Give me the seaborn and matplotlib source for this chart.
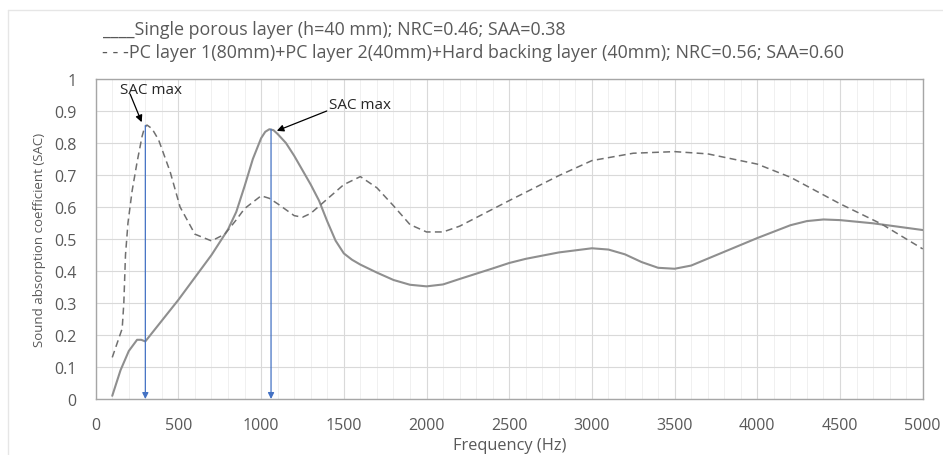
import matplotlib
matplotlib.use("Agg")
import matplotlib.pyplot as plt
import seaborn as sns
from matplotlib.ticker import MultipleLocator

sns.set_style("white")
plt.rcParams['font.family'] = ['Open Sans', 'DejaVu Sans']

# single porous layer (solid)
freq_single = [100, 150, 200, 250, 275, 300, 400, 500, 600, 700, 800, 850, 900,
               950, 1000, 1025, 1050, 1075, 1100, 1150, 1200, 1300, 1350, 1400,
               1450, 1500, 1550, 1600, 1700, 1800, 1900, 2000, 2100, 2200, 2400,
               2500, 2600, 2800, 3000, 3100, 3200, 3300, 3400, 3500, 3600, 3800,
               4000, 4200, 4300, 4400, 4500, 4700, 5000]
sac_single = [0.01, 0.09, 0.15, 0.185, 0.185, 0.18, 0.245, 0.31, 0.38, 0.45, 0.53,
              0.585, 0.665, 0.75, 0.815, 0.835, 0.843, 0.84, 0.828, 0.8, 0.76,
              0.67, 0.62, 0.555, 0.495, 0.455, 0.435, 0.42, 0.395, 0.372, 0.357,
              0.352, 0.358, 0.375, 0.408, 0.425, 0.438, 0.458, 0.471, 0.467, 0.452,
              0.428, 0.41, 0.407, 0.417, 0.46, 0.503, 0.543, 0.556, 0.561, 0.559,
              0.549, 0.528]

# PC layer 1 + PC layer 2 + hard backing (dashed)
freq_pc = [100, 160, 170, 180, 195, 220, 250, 280, 295, 310, 340, 380, 450, 510,
           600, 700, 780, 850, 900, 1000, 1050, 1100, 1200, 1250, 1300, 1400, 1500,
           1600, 1700, 1800, 1900, 2000, 2100, 2200, 2500, 2800, 3000, 3250, 3500,
           3700, 4000, 4200, 4500, 4750, 5000]
sac_pc = [0.13, 0.22, 0.30, 0.45, 0.55, 0.65, 0.74, 0.82, 0.848, 0.856, 0.845, 0.81,
          0.71, 0.6, 0.515, 0.494, 0.515, 0.56, 0.595, 0.635, 0.627, 0.61, 0.573,
          0.568, 0.58, 0.625, 0.67, 0.695, 0.66, 0.604, 0.545, 0.522, 0.522, 0.54,
          0.62, 0.698, 0.745, 0.768, 0.773, 0.766, 0.734, 0.693, 0.61, 0.547, 0.469]

# SAC max markers
max_freq = [300, 1060]
max_sac = [0.855, 0.843]

legend_single = "____Single porous layer (h=40 mm); NRC=0.46; SAA=0.38"
legend_pc = "- - -PC layer 1(80mm)+PC layer 2(40mm)+Hard backing layer (40mm); NRC=0.56; SAA=0.60"

fig = plt.figure(figsize=(9.43, 4.56), dpi=100)
ax = fig.add_axes([0.1015, 0.1228, 0.877, 0.7018])

ax.xaxis.set_minor_locator(MultipleLocator(100))
ax.grid(which='minor', axis='x', color='#f0f0f0', lw=0.7, zorder=0)
ax.grid(which='major', color='#d9d9d9', lw=0.8, zorder=0)

sns.lineplot(x=freq_single, y=sac_single, ax=ax, color='#8f8f8f', lw=1.5,
             estimator=None, zorder=3)
sns.lineplot(x=freq_pc, y=sac_pc, ax=ax, color='#707070', lw=1.1,
             estimator=None, zorder=3)
ax.lines[-1].set_dashes([4.5, 2.8])

for f, v in zip(max_freq, max_sac):
    ax.annotate('', xy=(f, 0.0), xytext=(f, v),
                arrowprops=dict(arrowstyle='-|>', color='#4472c4', lw=0.9,
                                mutation_scale=9, shrinkA=0, shrinkB=0),
                zorder=4)

# SAC max labels with black arrows
ax.text(147, 0.966, "SAC max", fontsize=11, ha='left', va='center')
ax.annotate('', xy=(278, 0.865), xytext=(208, 0.953),
            arrowprops=dict(arrowstyle='-|>', color='black', lw=0.9,
                            mutation_scale=10, shrinkA=0, shrinkB=0))
ax.text(1410, 0.92, "SAC max", fontsize=11, ha='left', va='center')
ax.annotate('', xy=(1095, 0.838), xytext=(1397, 0.90),
            arrowprops=dict(arrowstyle='-|>', color='black', lw=0.9,
                            mutation_scale=10, shrinkA=0, shrinkB=0))

ax.set_xlim(0, 5000)
ax.set_ylim(0, 1)
ax.xaxis.set_major_locator(MultipleLocator(500))
ax.set_yticks([i / 10 for i in range(11)])
ax.set_yticklabels(['0'] + [f'{i / 10:.1f}' for i in range(1, 10)] + ['1'])
ax.tick_params(axis='both', length=0, labelsize=11.5, colors='#595959')
ax.tick_params(axis='x', pad=13)
ax.tick_params(axis='y', pad=14)

for s in ax.spines.values():
    s.set_color('#a6a6a6')
    s.set_linewidth(1.0)

ax.set_xlabel("Frequency (Hz)", fontsize=11.8, color='#595959', labelpad=3)
ax.set_ylabel("Sound absorption coefficient (SAC)", fontsize=9.5, color='#595959',
              labelpad=6)

fig.text(103 / 943, 1 - 30 / 456, legend_single, fontsize=12.9, color='#595959',
         va='center', ha='left')
fig.text(102 / 943, 1 - 53 / 456, legend_pc, fontsize=12.9, color='#595959',
         va='center', ha='left')

# chart-area frame (top and left edges)
fig.add_artist(plt.Line2D([8 / 943, 1], [1 - 11 / 456, 1 - 11 / 456],
                          transform=fig.transFigure, color='#e6e6e6', lw=1))
fig.add_artist(plt.Line2D([8 / 943, 8 / 943], [0, 1 - 11 / 456],
                          transform=fig.transFigure, color='#e6e6e6', lw=1))

fig.savefig("out.png", dpi=100)
